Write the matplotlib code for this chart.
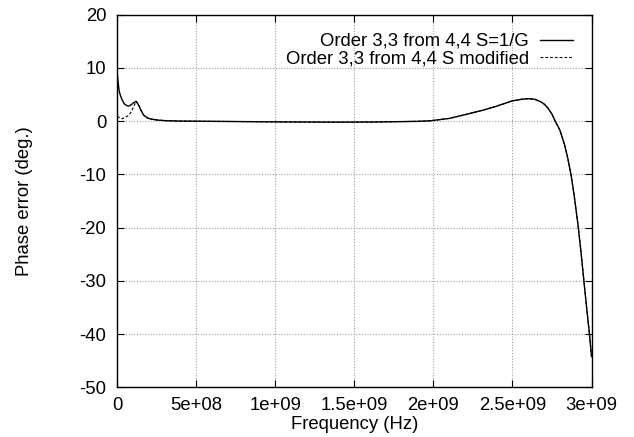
import matplotlib
matplotlib.use("Agg")
import matplotlib.pyplot as plt

plt.rcParams['font.family'] = ['Liberation Sans', 'DejaVu Sans']
plt.rcParams['axes.unicode_minus'] = False

# frequency in Hz, phase error in degrees
freq_sg = [0.0, 0.005e9, 0.012e9, 0.02e9, 0.03e9, 0.045e9, 0.06e9, 0.072e9, 0.09e9,
           0.105e9, 0.12e9, 0.135e9, 0.15e9, 0.167e9, 0.19e9, 0.21e9, 0.25e9, 0.3e9,
           0.4e9, 0.6e9, 0.8e9, 1.0e9, 1.2e9, 1.4e9, 1.6e9, 1.8e9, 1.9e9, 1.98e9,
           2.1e9, 2.2e9, 2.32e9, 2.4e9, 2.5e9, 2.56e9, 2.6e9, 2.64e9, 2.68e9,
           2.7e9, 2.72e9, 2.75e9, 2.77e9, 2.8e9, 2.83e9, 2.85e9, 2.87e9, 2.89e9,
           2.915e9, 2.935e9, 2.95e9, 2.97e9, 2.987e9, 3.0e9]
phase_sg = [8.9, 7.3, 5.6, 4.8, 4.0, 3.2, 2.9, 2.8, 3.1,
            3.5, 3.7, 3.0, 2.0, 1.1, 0.6, 0.4, 0.2, 0.08,
            0.0, -0.05, -0.1, -0.15, -0.18, -0.2, -0.18, -0.1, -0.05, 0.05,
            0.5, 1.2, 2.1, 2.8, 3.8, 4.1, 4.2, 4.1, 3.6,
            3.2, 2.6, 1.3, 0.0, -1.7, -4.5, -7.0, -10.0, -13.9,
            -19.6, -25.0, -29.5, -35.3, -40.0, -44.2]

freq_mod = [0.0, 0.01e9, 0.02e9, 0.03e9, 0.045e9, 0.06e9, 0.072e9, 0.09e9,
            0.103e9, 0.12e9]
phase_mod = [0.9, 0.7, 0.5, 0.45, 0.6, 0.85, 1.1, 1.8,
             2.7, 3.7]

xticks = [0, 5e8, 1e9, 1.5e9, 2e9, 2.5e9, 3e9]
xtick_labels = ["0", "5e+08", "1e+09", "1.5e+09", "2e+09", "2.5e+09", "3e+09"]
yticks = [20, 10, 0, -10, -20, -30, -40, -50]

fs = 13.3

fig = plt.figure(figsize=(6.34, 4.37), dpi=100)
ax = fig.add_axes([0.185, 0.1133, 0.933 - 0.185, 0.9668 - 0.1133])

ax.plot(freq_sg, phase_sg, color="black", lw=1.0, label="Order 3,3 from 4,4 S=1/G")
# the modified curve coincides with the first one past the low-frequency bump
ax.plot(freq_mod + freq_sg[11:], phase_mod + phase_sg[11:], color="black", lw=0.8,
        dashes=(2.5, 1.8), label="Order 3,3 from 4,4 S modified")

ax.set_xlim(0, 3e9)
ax.set_ylim(-50, 20)
ax.set_xticks(xticks)
ax.set_xticklabels(xtick_labels)
ax.set_yticks(yticks)
ax.tick_params(direction="in", top=True, right=True, length=5, labelsize=fs)
ax.tick_params(axis="x", pad=7)
ax.tick_params(axis="y", pad=8)
ax.grid(True, color="#a0a0a0", linestyle=(0, (1, 1.5)), lw=0.8)
for s in ax.spines.values():
    s.set_linewidth(1.0)

ax.set_xlabel("Frequency (Hz)", fontsize=fs, labelpad=1)
ax.set_ylabel("Phase error (deg.)", fontsize=fs, labelpad=33)

ax.legend(loc="upper right", frameon=False, markerfirst=False, fontsize=fs,
          handlelength=1.8, handletextpad=0.58, labelspacing=0.03,
          borderaxespad=0.6)

fig.savefig("out.png", dpi=100)
